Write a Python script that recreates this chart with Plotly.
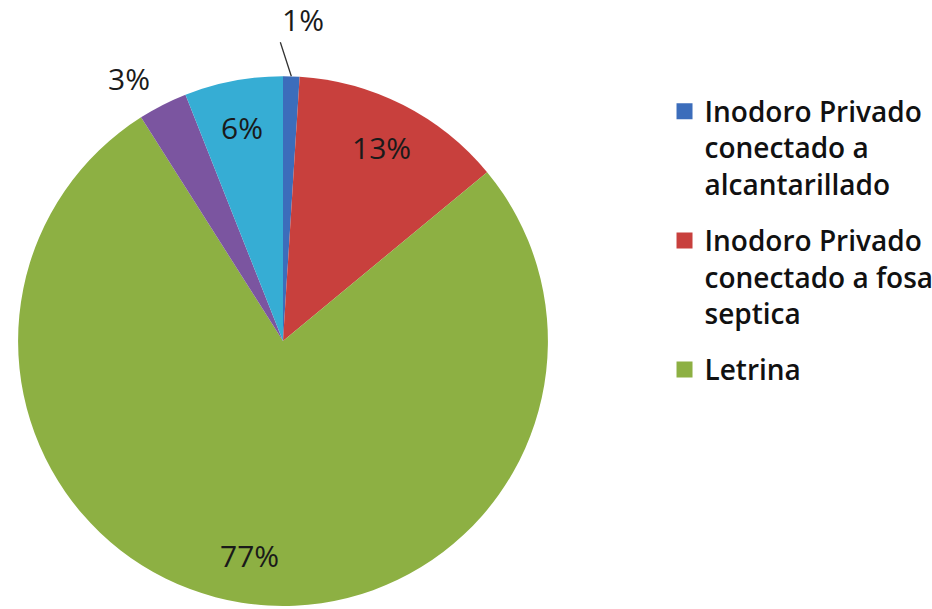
import math
import plotly.graph_objects as go

labels = ["Inodoro Privado conectado a alcantarillado",
          "Inodoro Privado conectado a fosa septica",
          "Letrina", "Otro 1", "Otro 2"]
values = [1, 13, 77, 3, 6]
colors = ["#3C6DBB", "#C8403D", "#8DB043", "#7B55A0", "#36ADD4"]
label_inside = [False, True, True, False, True]
legend_names = ["Inodoro Privado<br>conectado a<br>alcantarillado",
                "Inodoro Privado<br>conectado a fosa<br>septica",
                "Letrina"]

W, H = 932, 609
dom_x = [0.0193, 0.588]
dom_y = [0.005, 0.875]

fig = go.Figure()
fig.add_trace(go.Pie(
    labels=labels, values=values, sort=False, direction="clockwise",
    marker=dict(colors=colors, line=dict(width=0)),
    textinfo="none", showlegend=False, hoverinfo="label+percent",
    domain=dict(x=dom_x, y=dom_y),
))
for i, (name, c) in enumerate(zip(legend_names, colors[:3])):
    fig.add_trace(go.Scatter(x=[None], y=[None], mode="markers", name=name,
                             legendgroup=f"g{i}",
                             marker=dict(symbol="square", size=16, color=c)))

# percentage labels placed along each slice's bisector (derived from the data)
cx = (dom_x[0] + dom_x[1]) / 2
cy = (dom_y[0] + dom_y[1]) / 2
R = min((dom_x[1] - dom_x[0]) * W, (dom_y[1] - dom_y[0]) * H) / 2
total = sum(values)
cum = 0
font = dict(family="Open Sans", size=30, color="#1a1a1a")
for v, inside in zip(values, label_inside):
    mid = (cum + v / 2) / total * 2 * math.pi
    cum += v
    txt = f"{round(v / total * 100)}%"
    if inside:
        r = 0.82 * R
        fig.add_annotation(x=cx + r * math.sin(mid) / W, y=cy + r * math.cos(mid) / H,
                           xref="paper", yref="paper", text=txt, showarrow=False,
                           xanchor="center", yanchor="middle", font=font)
    elif v / total < 0.02:
        fig.add_annotation(x=cx + R * math.sin(mid) / W, y=cy + R * math.cos(mid) / H,
                           xref="paper", yref="paper", text=txt, showarrow=True,
                           arrowhead=0, arrowwidth=1.3, arrowcolor="#333333",
                           ax=-11, ay=-34, xanchor="left", yanchor="bottom",
                           font=font)
    else:
        r = 1.15 * R
        mid -= 0.06
        fig.add_annotation(x=cx + r * math.sin(mid) / W, y=cy + r * math.cos(mid) / H,
                           xref="paper", yref="paper", text=txt, showarrow=False,
                           xanchor="center", yanchor="middle", font=font)

fig.update_layout(
    width=W, height=H, margin=dict(l=0, r=0, t=0, b=0, autoexpand=False),
    paper_bgcolor="white", plot_bgcolor="white",
    xaxis=dict(visible=False), yaxis=dict(visible=False),
    legend=dict(x=0.713, y=0.858, xanchor="left", yanchor="top", valign="top",
                font=dict(family="Open Sans", size=28, color="#111111", weight=600),
                tracegroupgap=17, itemsizing="trace"),
)
fig.write_html("out.html")
